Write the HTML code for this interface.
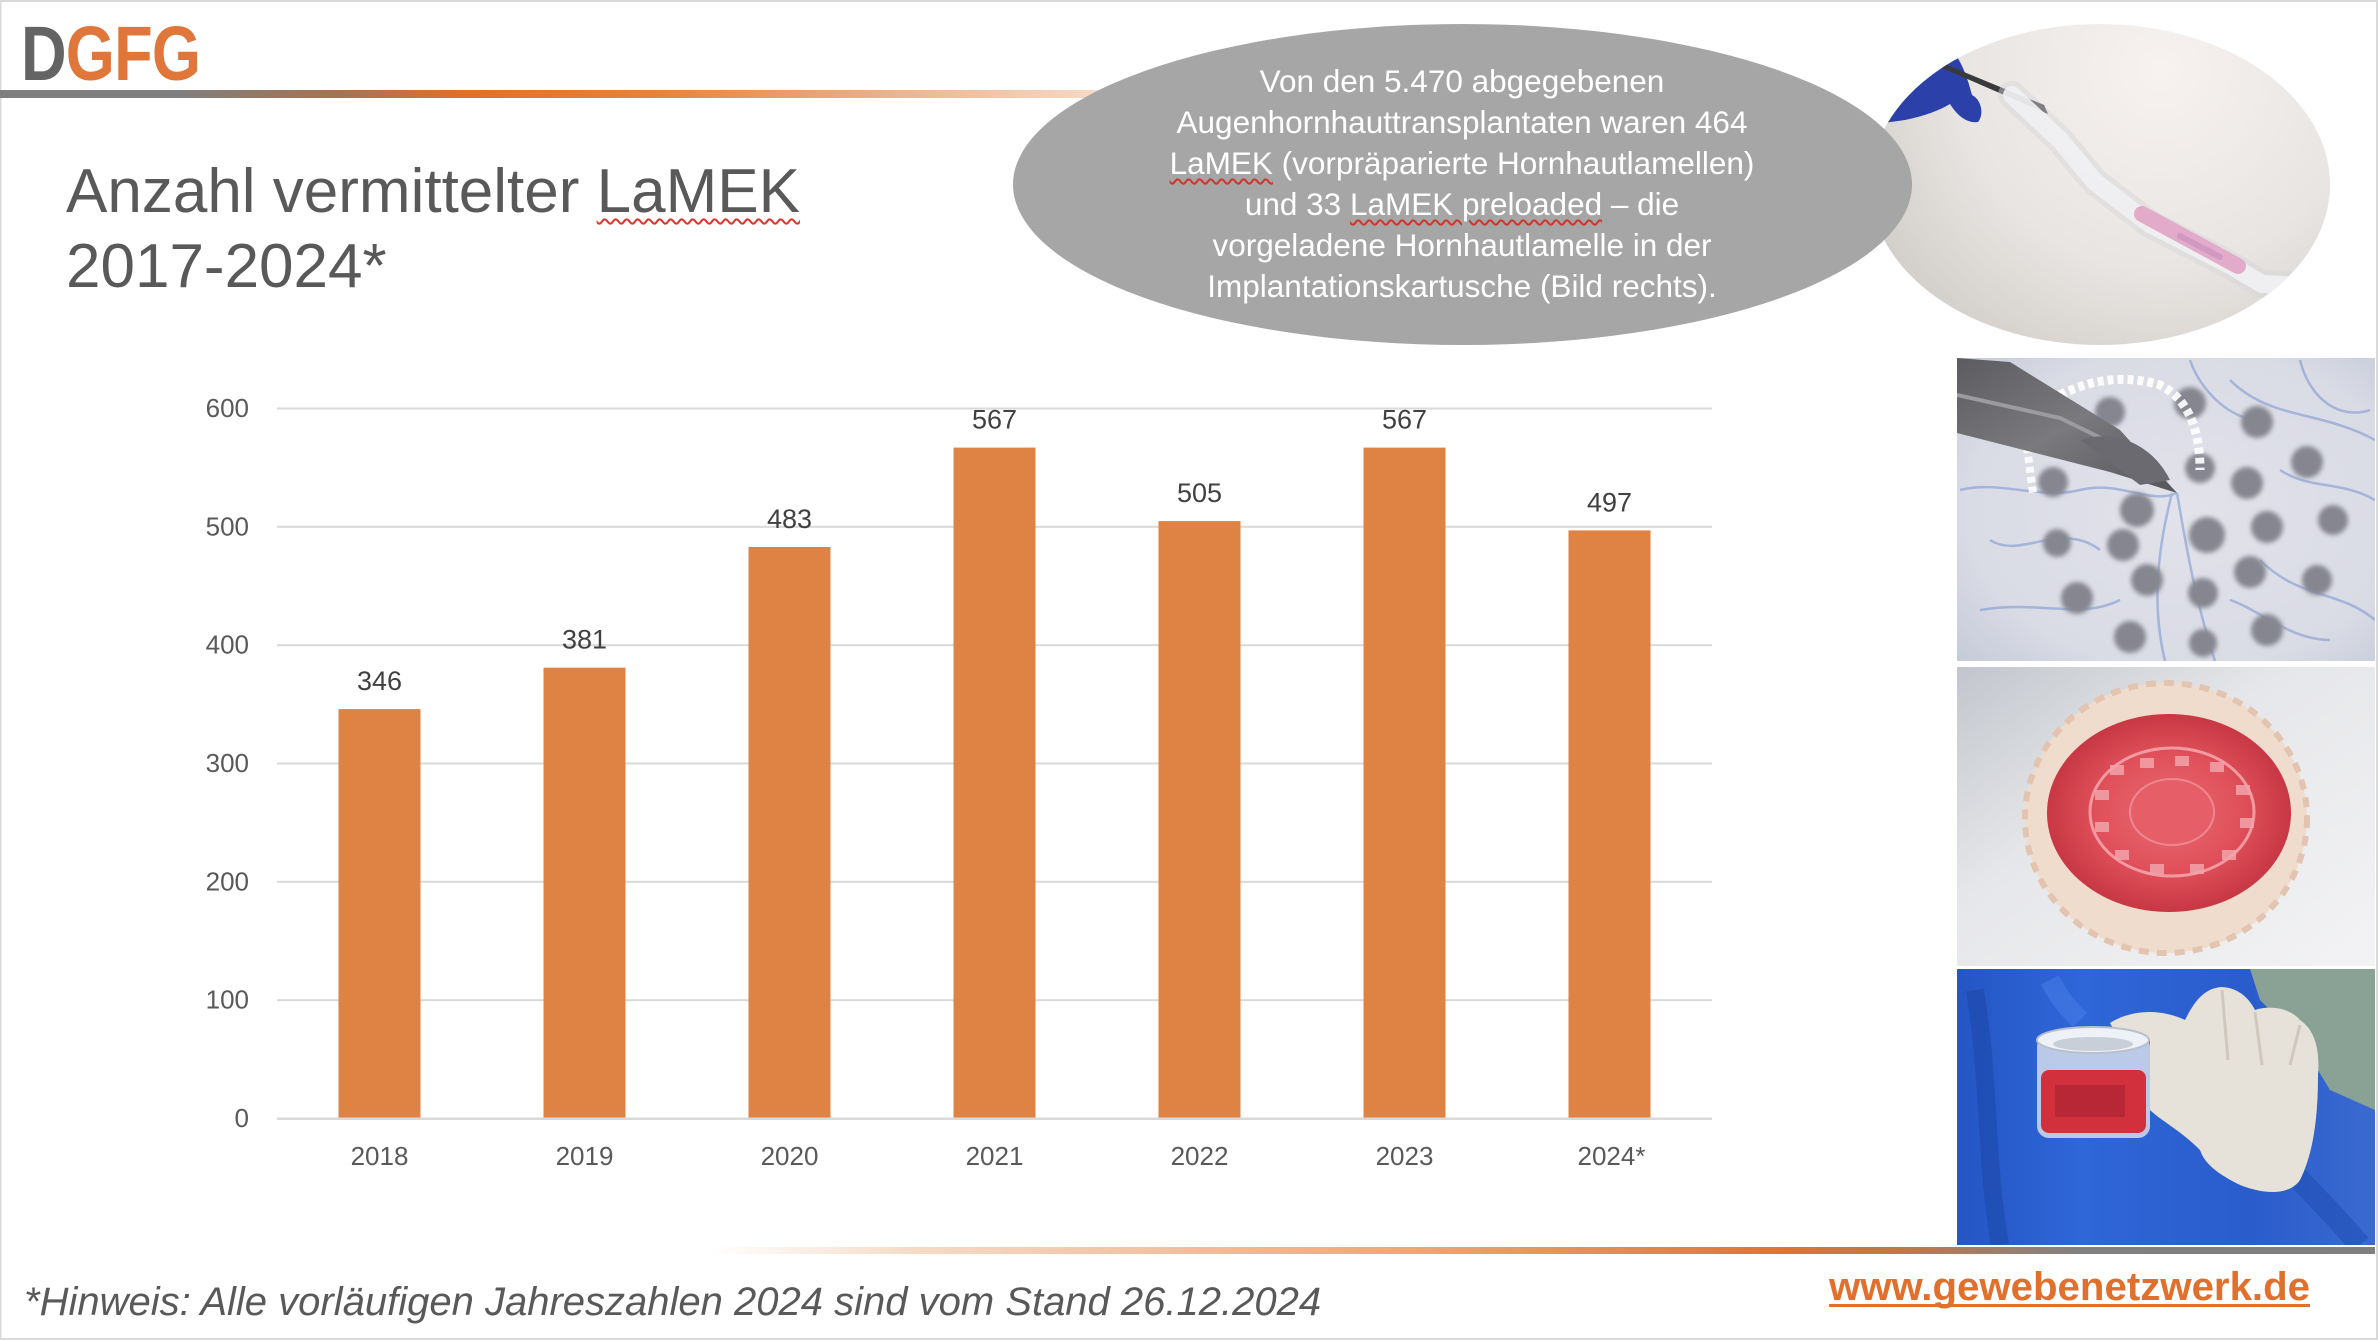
<!DOCTYPE html>
<html><head><meta charset="utf-8">
<style>
html,body{margin:0;padding:0;}
body{width:2378px;height:1340px;position:relative;overflow:hidden;background:#fff;font-family:"Liberation Sans",Arial,sans-serif;}
svg{position:absolute;left:0;top:0;}
.title{position:absolute;left:66px;top:154px;font-size:62px;line-height:75px;color:#595959;white-space:nowrap;}
.sq{text-decoration:underline wavy #e0342a;text-decoration-thickness:2px;text-underline-offset:6px;}
.bubble{position:absolute;left:1012px;top:61px;width:900px;font-size:31.5px;line-height:41px;color:#fff;text-align:center;white-space:nowrap;}
.bubble .sq{text-decoration-thickness:1.5px;text-underline-offset:4px;text-decoration-color:#d0342a;}
</style></head>
<body>
<svg width="2378" height="1340" viewBox="0 0 2378 1340" xmlns="http://www.w3.org/2000/svg">
<defs>
<linearGradient id="topline" gradientUnits="userSpaceOnUse" x1="0" y1="0" x2="1200" y2="0">
<stop offset="0" stop-color="#7f7f7f"/><stop offset="0.146" stop-color="#7f7f7f"/><stop offset="0.28" stop-color="#a87250"/><stop offset="0.39" stop-color="#e0702c"/><stop offset="0.55" stop-color="#e5843f"/><stop offset="0.75" stop-color="#eeb48c"/><stop offset="0.9" stop-color="#f5d6c0"/><stop offset="1" stop-color="#ffffff"/>
</linearGradient>
<linearGradient id="botline" gradientUnits="userSpaceOnUse" x1="712" y1="0" x2="2375" y2="0">
<stop offset="0" stop-color="#ffffff"/><stop offset="0.12" stop-color="#f5dbc7"/><stop offset="0.42" stop-color="#eba77a"/><stop offset="0.646" stop-color="#e0732f"/><stop offset="0.74" stop-color="#b07a5a"/><stop offset="0.82" stop-color="#818181"/><stop offset="1" stop-color="#7f7f7f"/>
</linearGradient>
<radialGradient id="circbg" cx="2160" cy="70" r="330" gradientUnits="userSpaceOnUse">
<stop offset="0" stop-color="#f7f2f0"/><stop offset="0.6" stop-color="#e8e5e2"/><stop offset="1" stop-color="#d2cfcb"/>
</radialGradient>
<clipPath id="circclip"><ellipse cx="2100" cy="184.5" rx="230" ry="160.5"/></clipPath>
<clipPath id="img1"><rect x="1957" y="358" width="418" height="303"/></clipPath>
<clipPath id="img2"><rect x="1957" y="667" width="418" height="299"/></clipPath>
<clipPath id="img3"><rect x="1957" y="969" width="418" height="276"/></clipPath>
<radialGradient id="i1bg" cx="0.55" cy="0.5" r="0.75">
<stop offset="0" stop-color="#e2e2ea"/><stop offset="0.7" stop-color="#d9dbe5"/><stop offset="1" stop-color="#c5cad8"/>
</radialGradient>
<linearGradient id="i2bg" x1="0" y1="0" x2="1" y2="1">
<stop offset="0" stop-color="#c2c6cc"/><stop offset="0.4" stop-color="#e6e7ea"/><stop offset="1" stop-color="#f3f3f5"/>
</linearGradient>
<linearGradient id="i3bg" x1="0" y1="0" x2="1" y2="0">
<stop offset="0" stop-color="#2456c4"/><stop offset="0.3" stop-color="#2f66d8"/><stop offset="0.7" stop-color="#2a5ccc"/><stop offset="1" stop-color="#3a6ad0"/>
</linearGradient>
<radialGradient id="redg" cx="0.5" cy="0.5" r="0.5">
<stop offset="0" stop-color="#e86a72"/><stop offset="0.6" stop-color="#e0505a"/><stop offset="1" stop-color="#c83844"/>
</radialGradient>
<linearGradient id="tweez" x1="0" y1="0" x2="1" y2="1">
<stop offset="0" stop-color="#5c5c60"/><stop offset="0.5" stop-color="#7a7a7e"/><stop offset="1" stop-color="#55555a"/>
</linearGradient>
<filter id="blur2"><feGaussianBlur stdDeviation="2.5"/></filter>
</defs>

<!-- border -->
<rect x="0" y="0" width="2378" height="2" fill="#d9d9d9"/>
<rect x="0" y="1338" width="2378" height="2" fill="#d9d9d9"/>
<rect x="0" y="0" width="1.5" height="1340" fill="#d9d9d9"/>
<rect x="2376" y="0" width="2" height="1340" fill="#d9d9d9"/>

<!-- top line -->
<rect x="0" y="90" width="1200" height="8" fill="url(#topline)"/>

<!-- logo -->
<g transform="translate(21,80) scale(0.82,1)" font-family="Liberation Sans, Arial, sans-serif" font-weight="bold" font-size="77">
<text x="0" y="0" fill="#646464" letter-spacing="-1">D<tspan fill="#e0763a">GFG</tspan></text>
</g>

<!-- circle photo -->
<g clip-path="url(#circclip)">
<rect x="1860" y="20" width="480" height="330" fill="url(#circbg)"/>
<path d="M1870,125 C1880,95 1900,70 1925,52 L1950,48 C1962,60 1968,80 1972,95 C1982,100 1984,115 1978,122 C1965,124 1955,112 1950,104 C1940,110 1925,116 1905,120 Z" fill="#2b40a8"/>
<path d="M1930,58 L1942,68 L2048,114 L2044,105 Z" fill="#3a3a3c"/>
<path d="M2012,95 L2060,140 L2095,182 L2150,224 L2230,265 L2262,284 L2310,286" fill="none" stroke="#d4d4d8" stroke-width="28" stroke-linecap="round" stroke-linejoin="round" opacity="0.45"/>
<path d="M2012,95 L2060,140 L2095,182 L2150,224 L2230,265 L2262,284 L2310,286" fill="none" stroke="#f1f1f3" stroke-width="18" stroke-linecap="round" stroke-linejoin="round" opacity="0.9"/>
<path d="M2142,214 L2238,266" stroke="#e2abc9" stroke-width="16" stroke-linecap="round"/>
<path d="M2180,236 L2220,257" stroke="#c892c0" stroke-width="6" stroke-linecap="round" opacity="0.7"/>
</g>

<!-- gray bubble -->
<ellipse cx="1462.5" cy="184.5" rx="449.5" ry="160.5" fill="#a6a6a6"/>

<!-- image 1 -->
<g clip-path="url(#img1)">
<rect x="1957" y="358" width="418" height="303" fill="url(#i1bg)"/>
<g fill="none" stroke="#7894d0" stroke-width="2.5" opacity="0.55">
<path d="M1960,490 C2000,480 2040,500 2080,490 S2150,505 2177,493"/>
<path d="M2177,493 C2185,540 2195,600 2215,661"/>
<path d="M2172,493 C2160,540 2150,600 2165,661"/>
<path d="M2230,380 C2270,420 2320,410 2375,440"/>
<path d="M1980,610 C2040,600 2080,620 2120,600"/>
<path d="M2260,560 C2300,600 2340,590 2375,620"/>
<path d="M2190,360 C2200,390 2230,420 2260,420"/>
<path d="M2280,470 C2310,490 2340,480 2375,500"/>
<path d="M1990,540 C2020,560 2060,520 2100,550"/>
<path d="M2230,600 C2260,610 2290,640 2330,640"/>
<path d="M2300,360 C2310,400 2340,420 2370,410"/>
</g>
<g fill="#858690" filter="url(#blur2)">
<circle cx="2190" cy="403" r="16"/><circle cx="2257" cy="422" r="16"/><circle cx="2307" cy="462" r="16"/>
<circle cx="2247" cy="483" r="16"/><circle cx="2200" cy="468" r="15"/><circle cx="2110" cy="412" r="15"/>
<circle cx="2053" cy="482" r="15"/><circle cx="2137" cy="510" r="17"/><circle cx="2207" cy="535" r="18"/>
<circle cx="2267" cy="527" r="16"/><circle cx="2333" cy="520" r="15"/><circle cx="2123" cy="545" r="16"/>
<circle cx="2057" cy="543" r="14"/><circle cx="2147" cy="580" r="16"/><circle cx="2203" cy="593" r="15"/>
<circle cx="2250" cy="572" r="16"/><circle cx="2317" cy="580" r="15"/><circle cx="2077" cy="598" r="16"/>
<circle cx="2130" cy="637" r="16"/><circle cx="2267" cy="630" r="16"/><circle cx="2203" cy="643" r="14"/>
</g>
<path d="M2060,395 Q2110,370 2160,385 Q2200,405 2200,470" fill="none" stroke="#ffffff" stroke-width="9" stroke-dasharray="6 4" opacity="0.9"/>
<path d="M2027,447 L2033,493" fill="none" stroke="#ffffff" stroke-width="8" stroke-dasharray="6 4" opacity="0.85"/>
<path d="M1957,358 L2010,362 L2120,430 L2177,493 L2110,472 L1957,433 Z" fill="url(#tweez)"/>
<path d="M1957,395 L2060,418 L2150,462" fill="none" stroke="#9c9ca0" stroke-width="4"/>
<path d="M2080,440 C2110,430 2150,440 2170,480 L2140,485 Z" fill="#6a6a70"/>
</g>

<!-- image 2 -->
<g clip-path="url(#img2)">
<rect x="1957" y="667" width="418" height="299" fill="url(#i2bg)"/>
<ellipse cx="2166" cy="818" rx="141" ry="135" fill="#f0dccd" stroke="#e2c4b0" stroke-width="6" stroke-dasharray="10 8"/>
<ellipse cx="2169" cy="813" rx="122" ry="99" fill="url(#redg)"/>
<ellipse cx="2172" cy="812" rx="82" ry="64" fill="none" stroke="#f29aa2" stroke-width="3"/>
<g fill="#f2a4aa" opacity="0.85">
<rect x="2110" y="765" width="14" height="10"/><rect x="2140" y="758" width="14" height="10"/><rect x="2175" y="756" width="14" height="10"/><rect x="2210" y="762" width="14" height="10"/>
<rect x="2236" y="785" width="14" height="10"/><rect x="2240" y="818" width="14" height="10"/><rect x="2222" y="850" width="14" height="10"/><rect x="2190" y="864" width="14" height="10"/>
<rect x="2150" y="864" width="14" height="10"/><rect x="2115" y="850" width="14" height="10"/><rect x="2095" y="822" width="14" height="10"/><rect x="2095" y="790" width="14" height="10"/>
</g>
<ellipse cx="2172" cy="812" rx="42" ry="33" fill="#e55e68" stroke="#ec8890" stroke-width="2"/>
</g>

<!-- image 3 -->
<g clip-path="url(#img3)">
<rect x="1957" y="969" width="418" height="276" fill="url(#i3bg)"/>
<path d="M2250,969 L2375,969 L2375,1110 L2330,1090 L2300,1040 L2260,1000 Z" fill="#8aa196"/>
<path d="M1975,990 C1990,1080 1985,1160 2000,1245" fill="none" stroke="#1d48a8" stroke-width="18" opacity="0.6"/>
<path d="M2050,980 C2060,1000 2070,1010 2080,1020" fill="none" stroke="#4a80e8" stroke-width="20" opacity="0.5"/>
<path d="M2260,1140 C2300,1180 2330,1210 2360,1245" fill="none" stroke="#1c4cb0" stroke-width="22" opacity="0.5"/>
<path d="M2110,1023 C2130,1010 2160,1008 2185,1020 C2195,1000 2205,988 2222,987 C2240,988 2250,1000 2255,1010 C2270,1005 2290,1008 2300,1020 C2315,1030 2320,1050 2318,1075 C2318,1110 2315,1150 2300,1180 C2290,1195 2265,1195 2240,1185 C2220,1175 2205,1165 2200,1150 C2180,1130 2160,1120 2150,1110 L2150,1040 C2135,1040 2115,1035 2110,1023 Z" fill="#e6e2da"/>
<path d="M2222,990 L2228,1060 M2255,1012 L2262,1065 M2300,1025 L2290,1065" fill="none" stroke="#cfc9bd" stroke-width="3"/>
<rect x="2037" y="1035" width="113" height="103" rx="12" fill="#dfe4ec" opacity="0.8"/>
<rect x="2041" y="1070" width="105" height="63" rx="8" fill="#d3303e"/>
<rect x="2055" y="1085" width="70" height="32" fill="#a02030" opacity="0.55"/>
<ellipse cx="2093" cy="1040" rx="56" ry="13" fill="#eef1f6" stroke="#b8c0cc" stroke-width="2"/>
<ellipse cx="2093" cy="1044" rx="40" ry="7" fill="#c9cfd8"/>
</g>

<!-- bottom line -->
<rect x="712" y="1247" width="1663" height="7" fill="url(#botline)"/>

<!-- chart gridlines -->
<g fill="#d9d9d9">
<rect x="277" y="999.2" width="1435" height="2"/>
<rect x="277" y="880.8" width="1435" height="2"/>
<rect x="277" y="762.5" width="1435" height="2"/>
<rect x="277" y="644.2" width="1435" height="2"/>
<rect x="277" y="525.8" width="1435" height="2"/>
<rect x="277" y="407.5" width="1435" height="2"/>
</g>
<!-- bars -->
<g fill="#df8344">
<rect x="338.5" y="709.1" width="82" height="409.4"/>
<rect x="543.5" y="667.7" width="82" height="450.8"/>
<rect x="748.5" y="547.0" width="82" height="571.5"/>
<rect x="953.5" y="447.6" width="82" height="670.9"/>
<rect x="1158.5" y="521.1" width="82" height="597.4"/>
<rect x="1363.5" y="447.6" width="82" height="670.9"/>
<rect x="1568.5" y="530.4" width="82" height="588.1"/>
</g>
<rect x="277" y="1117.5" width="1435" height="2.5" fill="#d9d9d9"/>

<!-- y labels -->
<g font-family="Liberation Sans, Arial, sans-serif" font-size="26" fill="#595959" text-anchor="end">
<text x="249" y="1127">0</text>
<text x="249" y="1008.7">100</text>
<text x="249" y="890.3">200</text>
<text x="249" y="772">300</text>
<text x="249" y="653.7">400</text>
<text x="249" y="535.3">500</text>
<text x="249" y="417">600</text>
</g>
<!-- x labels -->
<g font-family="Liberation Sans, Arial, sans-serif" font-size="26" fill="#595959" text-anchor="middle">
<text x="379.5" y="1165">2018</text>
<text x="584.5" y="1165">2019</text>
<text x="789.5" y="1165">2020</text>
<text x="994.5" y="1165">2021</text>
<text x="1199.5" y="1165">2022</text>
<text x="1404.5" y="1165">2023</text>
<text x="1611.5" y="1165">2024*</text>
</g>
<!-- value labels -->
<g font-family="Liberation Sans, Arial, sans-serif" font-size="27" fill="#404040" text-anchor="middle">
<text x="379.5" y="690">346</text>
<text x="584.5" y="648.7">381</text>
<text x="789.5" y="528">483</text>
<text x="994.5" y="428.6">567</text>
<text x="1199.5" y="502.1">505</text>
<text x="1404.5" y="428.6">567</text>
<text x="1609.5" y="511.4">497</text>
</g>

<!-- footer -->
<text x="24" y="1315" font-family="Liberation Sans, Arial, sans-serif" font-size="40" font-style="italic" fill="#595959">*Hinweis: Alle vorläufigen Jahreszahlen 2024 sind vom Stand 26.12.2024</text>
<text x="1829" y="1300" font-family="Liberation Sans, Arial, sans-serif" font-size="40" font-weight="bold" fill="#e0702c" textLength="481" lengthAdjust="spacingAndGlyphs">www.gewebenetzwerk.de</text>
<rect x="1829" y="1304" width="481" height="3" fill="#e0702c"/>
</svg>

<div class="title">Anzahl vermittelter <span class="sq">LaMEK</span><br>2017-2024*</div>

<div class="bubble">Von den 5.470 abgegebenen<br>Augenhornhauttransplantaten waren 464<br><span class="sq">LaMEK</span> (vorpräparierte Hornhautlamellen)<br>und 33 <span class="sq">LaMEK preloaded</span> – die<br>vorgeladene Hornhautlamelle in der<br>Implantationskartusche (Bild rechts).</div>
</body></html>
